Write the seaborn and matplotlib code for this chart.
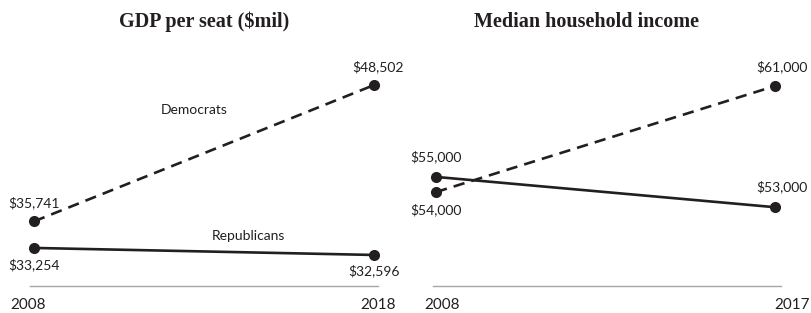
import pandas as pd
import matplotlib
matplotlib.use("Agg")
import matplotlib.pyplot as plt
import seaborn as sns

# datos
years_gdp = [2008, 2018]
dem_gdp = [35741, 48502]
rep_gdp = [33254, 32596]

years_inc = [2008, 2017]
dem_inc = [54000, 61000]
rep_inc = [55000, 53000]

ink = "#231f20"
sns.set_style("white")
plt.rcParams['font.family'] = ['Lato', 'DejaVu Sans']

df_gdp = pd.DataFrame({
    'year': years_gdp * 2,
    'value': dem_gdp + rep_gdp,
    'party': ['Democrats'] * 2 + ['Republicans'] * 2,
})
df_inc = pd.DataFrame({
    'year': years_inc * 2,
    'value': dem_inc + rep_inc,
    'party': ['Democrats'] * 2 + ['Republicans'] * 2,
})

fig = plt.figure(figsize=(8.12, 3.13), dpi=100)
ax1 = fig.add_axes([30 / 812, 27 / 313, 348 / 812, 246 / 313])
ax2 = fig.add_axes([433 / 812, 27 / 313, 348 / 812, 246 / 313])

for ax, df in [(ax1, df_gdp), (ax2, df_inc)]:
    sns.lineplot(data=df, x='year', y='value', style='party',
                 dashes={'Democrats': (4.3, 2.7), 'Republicans': ''},
                 markers={'Democrats': 'o', 'Republicans': 'o'},
                 color=ink, linewidth=1.9, markersize=8, markeredgewidth=0,
                 legend=False, ax=ax, clip_on=False)
    for s in ['top', 'left', 'right']:
        ax.spines[s].set_visible(False)
    ax.spines['bottom'].set_color('#a6a6a6')
    ax.spines['bottom'].set_linewidth(1)
    ax.set_xticks([])
    ax.set_yticks([])
    ax.set_xlabel('')
    ax.set_ylabel('')
    ax.set_facecolor('none')

ax1.set_xlim(2007.882, 2018.118)
ax1.set_ylim(29690, 52723)
ax2.set_xlim(2007.92, 2017.16)
ax2.set_ylim(47800, 64036)

def lab(ax, x, y, txt, dy, dx=0):
    ax.annotate(txt, xy=(x, y), xytext=(dx, dy), textcoords='offset pixels',
                ha='center', va='center', fontsize=10, color=ink)

# etiquetas de valores
lab(ax1, years_gdp[0], dem_gdp[0], '${:,}'.format(dem_gdp[0]), 19)
lab(ax1, years_gdp[1], dem_gdp[1], '${:,}'.format(dem_gdp[1]), 18, 4)
lab(ax1, years_gdp[0], rep_gdp[0], '${:,}'.format(rep_gdp[0]), -17)
lab(ax1, years_gdp[1], rep_gdp[1], '${:,}'.format(rep_gdp[1]), -16)
lab(ax2, years_inc[0], rep_inc[0], '${:,}'.format(rep_inc[0]), 20)
lab(ax2, years_inc[0], dem_inc[0], '${:,}'.format(dem_inc[0]), -18)
lab(ax2, years_inc[1], dem_inc[1], '${:,}'.format(dem_inc[1]), 19, 7)
lab(ax2, years_inc[1], rep_inc[1], '${:,}'.format(rep_inc[1]), 20, 7)

# nombres de partidos
fig.text(194 / 812, 1 - 110 / 313, 'Democrats', ha='center', va='center',
         fontsize=10, color=ink)
fig.text(248 / 812, 1 - 236 / 313, 'Republicans', ha='center', va='center',
         fontsize=10, color=ink)

# anios
for ax, yrs, offs in [(ax1, years_gdp, (-6, 4)), (ax2, years_inc, (6, 17))]:
    for yr, dx in zip(yrs, offs):
        ax.annotate(str(yr), xy=(yr, 0), xycoords=ax.get_xaxis_transform(),
                    xytext=(dx, -19), textcoords='offset pixels',
                    ha='center', va='center', fontsize=11, color=ink)

# titulos
fig.text(204 / 812, 1 - 22 / 313, 'GDP per seat ($mil)', ha='center',
         va='center', fontsize=14.5, fontweight='bold', color=ink,
         family=['Liberation Serif', 'DejaVu Serif'])
fig.text(587 / 812, 1 - 22 / 313, 'Median household income', ha='center',
         va='center', fontsize=14.5, fontweight='bold', color=ink,
         family=['Liberation Serif', 'DejaVu Serif'])

fig.savefig('out.png', dpi=100)
